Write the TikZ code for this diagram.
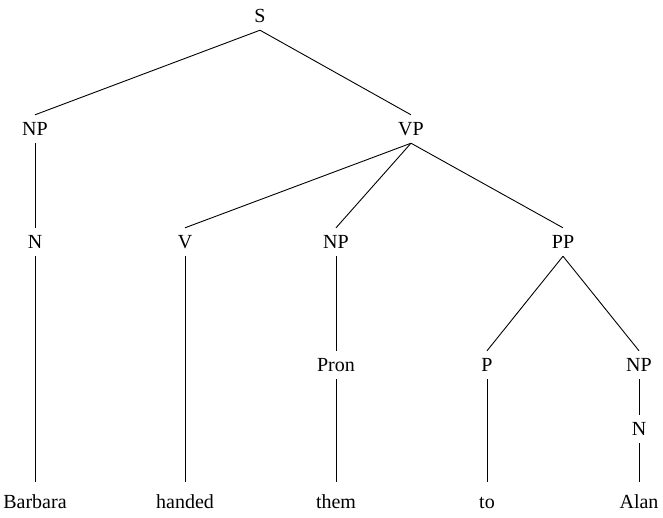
\documentclass[tikz,border=0pt]{standalone}
\usepackage{fontspec}
\setmainfont{Liberation Serif}
\begin{document}
\begin{tikzpicture}[x=1pt,y=-1pt,
  lab/.style={anchor=base, inner sep=0pt, text height=20pt, text depth=8pt,
              font=\fontsize{20}{24}\selectfont},
  leaf/.style={lab, text height=26pt},
  edge/.style={line width=0.9pt, black}]
\useasboundingbox (0,0) rectangle (663,517);
% internal nodes
\node[lab] (S)    at (260,22)  {S};
\node[lab] (NPa)  at (35,135)  {NP};
\node[lab] (VP)   at (411,135) {VP};
\node[lab] (Na)   at (35,248)  {N};
\node[lab] (V)    at (185,248) {V};
\node[lab] (NPb)  at (336,248) {NP};
\node[lab] (PP)   at (563,248) {PP};
\node[lab] (Pron) at (336,371) {Pron};
\node[lab] (P)    at (487,371) {P};
\node[lab] (NPc)  at (639,371) {NP};
\node[lab] (Nb)   at (639,435) {N};
% leaves
\node[leaf] (barbara) at (35,508)  {Barbara};
\node[leaf] (handed)  at (185,508) {handed};
\node[leaf] (them)    at (336,508) {them};
\node[leaf] (to)      at (487,508) {to};
\node[leaf] (alan)    at (639,508) {Alan};
% edges
\draw[edge] (S.south) -- (NPa.north);
\draw[edge] (S.south) -- (VP.north);
\draw[edge] (NPa.south) -- (Na.north);
\draw[edge] (VP.south) -- (V.north);
\draw[edge] (VP.south) -- (NPb.north);
\draw[edge] (VP.south) -- (PP.north);
\draw[edge] (Na.south) -- (barbara.north);
\draw[edge] (V.south) -- (handed.north);
\draw[edge] (NPb.south) -- (Pron.north);
\draw[edge] (Pron.south) -- (them.north);
\draw[edge] (PP.south) -- (P.north);
\draw[edge] (PP.south) -- (NPc.north);
\draw[edge] (P.south) -- (to.north);
\draw[edge] (NPc.south) -- (Nb.north);
\draw[edge] (Nb.south) -- (alan.north);
\end{tikzpicture}
\end{document}
